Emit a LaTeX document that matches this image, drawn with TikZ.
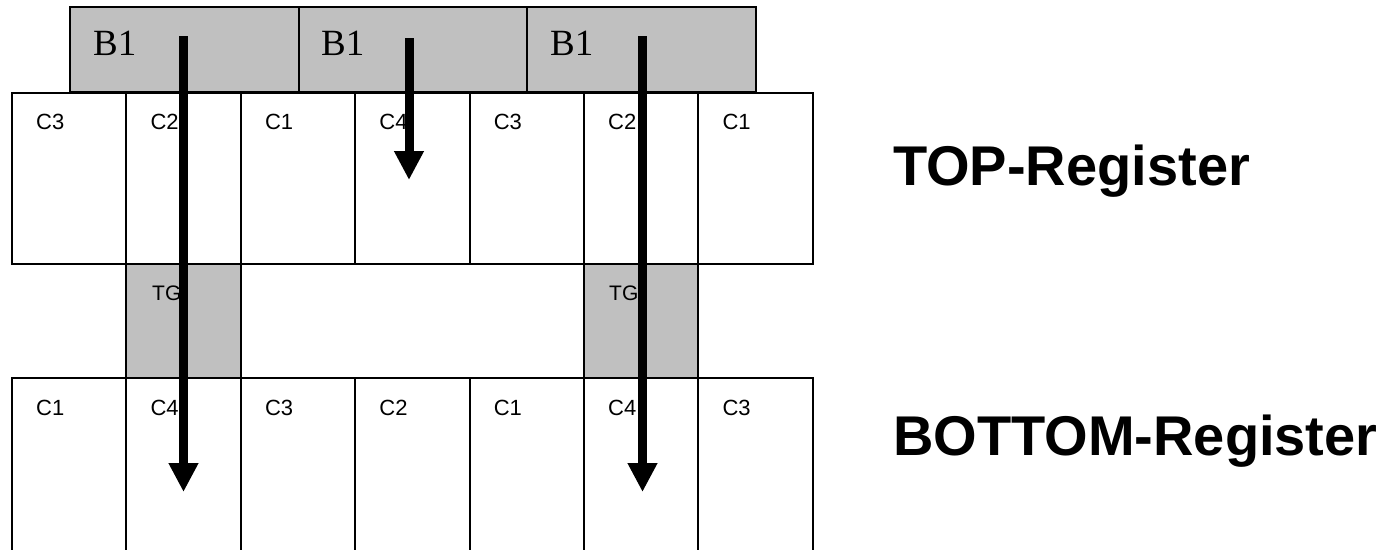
\documentclass[tikz,border=0pt]{standalone}
\usepackage{fontspec}
\setmainfont{Liberation Sans}
\newfontfamily\serifB{Liberation Serif}
\usetikzlibrary{arrows.meta}
\definecolor{boxgray}{RGB}{192,192,192}
\tikzset{
  cell/.style={draw=black, line width=2pt, fill=white, minimum width=114.4pt, minimum height=171pt, inner sep=0pt, outer sep=0pt, anchor=north west},
  lowcell/.style={cell, minimum height=185pt},
  bbox/.style={draw=black, line width=2pt, fill=boxgray, minimum width=229pt, minimum height=85pt, inner sep=0pt, outer sep=0pt, anchor=north west},
  tgbox/.style={draw=black, line width=2pt, fill=boxgray, minimum width=114.4pt, minimum height=114pt, inner sep=0pt, outer sep=0pt, anchor=north west},
  clab/.style={font=\fontsize{22}{26}\selectfont, inner sep=0pt, anchor=base west},
  tlab/.style={font=\fontsize{21}{25}\selectfont, inner sep=0pt, anchor=base west},
  blab/.style={font=\serifB\fontsize{37}{40}\selectfont, inner sep=0pt, anchor=base west},
  rlab/.style={font=\bfseries\fontsize{56}{60}\selectfont, inner sep=0pt, anchor=base west},
  bigarrow/.style={line width=9pt, -{Triangle[width=28pt,length=29pt]}}
}
\begin{document}
\begin{tikzpicture}[x=1pt,y=-1pt]
\useasboundingbox (0,0) rectangle (1392,549);
\clip (0,0) rectangle (1392,549);
\fill[white] (0,0) rectangle (1392,549);
% B1 boxes
\node[bbox] (b1) at (70,7) {};
\node[bbox] (b2) at (298.5,7) {};
\node[bbox] (b3) at (527,7) {};
\node[blab] (b1t) at (93,55) {B1};
\node[blab] (b2t) at (321,55) {B1};
\node[blab] (b3t) at (550,55) {B1};
% top row
\foreach \i/\t in {0/C3,1/C2,2/C1,3/C4,4/C3,5/C2,6/C1}{
  \node[cell] (t\i) at (12+\i*114.4,92.5) {};
  \node[clab] (tl\i) at (36+\i*114.4,129) {\t};
}
% TG boxes
\node[tgbox] (tg1) at (126.4,263.5) {};
\node[tgbox] (tg2) at (584,263.5) {};
\node[tlab] (tg1t) at (152,300) {TG};
\node[tlab] (tg2t) at (609,300) {TG};
% bottom row
\foreach \i/\t in {0/C1,1/C4,2/C3,3/C2,4/C1,5/C4,6/C3}{
  \node[lowcell] (u\i) at (12+\i*114.4,377.5) {};
  \node[clab] (ul\i) at (36+\i*114.4,415) {\t};
}
% register labels
\node[rlab] (top) at (893,185) {TOP-Register};
\node[rlab] (bot) at (893,455) {BOTTOM-Register};
% arrows
\coordinate (a1s) at (183.5,36);
\coordinate (a1e) at (183.5,492);
\coordinate (a2s) at (409,38);
\coordinate (a2e) at (409,180);
\coordinate (a3s) at (642.5,36);
\coordinate (a3e) at (642.5,492);
\draw[bigarrow] (a1s) -- (a1e);
\draw[bigarrow] (a2s) -- (a2e);
\draw[bigarrow] (a3s) -- (a3e);
\end{tikzpicture}
\end{document}
